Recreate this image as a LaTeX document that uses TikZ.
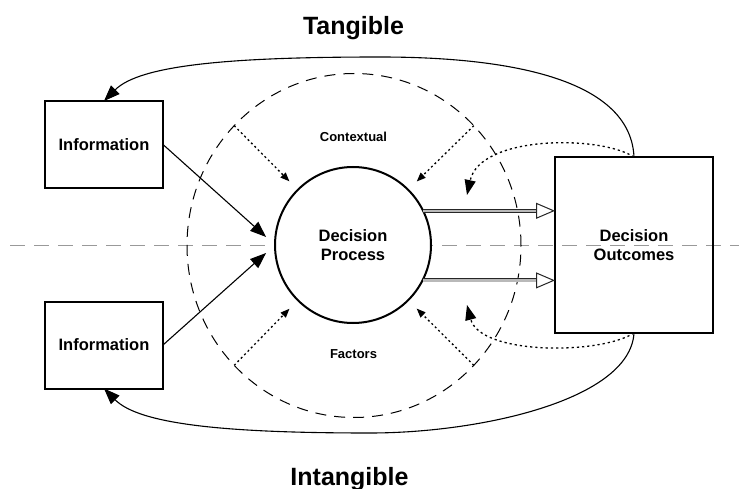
\documentclass[tikz,border=0pt]{standalone}
\usepackage{fontspec}
\setmainfont{Liberation Sans}
\usetikzlibrary{arrows.meta,shapes.geometric,calc}
\begin{document}
\begin{tikzpicture}[x=1pt,y=-1pt,
  lbl/.style={font=\bfseries\fontsize{16.5}{19}\selectfont, align=center},
  infobox/.style={lbl, draw, line width=2pt, fill=white, minimum width=118pt, minimum height=87pt, inner sep=0pt, outer sep=0pt},
  outbox/.style={lbl, draw, line width=2pt, minimum width=158pt, minimum height=176pt, inner sep=0pt, outer sep=0pt},
  procnode/.style={lbl, draw, circle, line width=2pt, fill=white, minimum size=156pt, inner sep=0pt, outer sep=0pt},
  ring/.style={draw, ellipse, line width=1pt, dash pattern=on 11pt off 8pt, minimum width=334pt, minimum height=344pt, inner sep=0pt, outer sep=0pt},
  axisline/.style={draw=gray!80, line width=0.8pt, dash pattern=on 15pt off 9pt},
  bigtitle/.style={font=\bfseries\fontsize{25}{28}\selectfont, anchor=base},
  smalltitle/.style={font=\bfseries\fontsize{13}{15}\selectfont, anchor=base},
  solidarrow/.style={line width=1.1pt, -{Triangle[length=16pt,width=12pt]}},
  loop/.style={line width=1.1pt, -{Triangle[length=16pt,width=12pt]}},
  dotarrow/.style={line width=1.3pt, dash pattern=on 2pt off 2.8pt, -{Triangle[length=9pt,width=7pt]}},
  dotloop/.style={line width=1.3pt, dash pattern=on 2.2pt off 3pt, -{Triangle[length=15pt,width=11pt]}},
  shaft/.style={draw=black!85, line width=0.9pt, double=gray!55, double distance=2.2pt, -{Triangle[open, length=19pt, width=16pt, line width=1pt]}}
]
\useasboundingbox (0,0) rectangle (739,489);

% horizontal axis line
\coordinate (axL) at (10,245);
\coordinate (axR) at (739,245);
\draw[axisline] (axL) -- (axR);

% dashed contextual ring
\node[ring] (ctx) at (354,245.5) {};

% nodes
\node[procnode] (c) at (353,245) {Decision\\Process};
\node[infobox] (i1) at (104,144.5) {Information};
\node[infobox] (i2) at (104,345) {Information};
\node[outbox] (out) at (634,245) {Decision\\Outcomes};

% titles
\node[bigtitle] (tang) at (353.5,35) {Tangible};
\node[bigtitle] (intang) at (349.5,485) {Intangible};
\node[smalltitle] (ctxlbl) at (353.5,142) {Contextual};
\node[smalltitle] (faclbl) at (353.5,358) {Factors};

% information arrows
\draw[solidarrow, shorten >=12pt] (i1.east) -- (c.west);
\draw[solidarrow, shorten >=12pt] (i2.east) -- (c.west);

% contextual dotted arrows
\draw[dotarrow, shorten >=12pt] (ctx.135) -- (c.135);
\draw[dotarrow, shorten >=12pt] (ctx.45) -- (c.45);
\draw[dotarrow, shorten >=12pt] (ctx.225) -- (c.225);
\draw[dotarrow, shorten >=12pt] (ctx.315) -- (c.315);

% process -> outcomes
\draw[shaft] (c.26.7) -- (c.26.7 -| out.west);
\draw[shaft] (c.-27.5) -- (c.-27.5 -| out.west);

% feedback dotted curves
\coordinate (fb1) at (467,195);
\coordinate (fb2) at (467,305);
\draw[dotloop] (out.north) .. controls (600,135) and (480,135) .. (fb1);
\draw[dotloop] (out.south) .. controls (600,355) and (480,355) .. (fb2);

% tangible / intangible loops
\draw[loop] (out.north) .. controls (630,70) and (480,57) .. (380,57)
   .. controls (230,57) and (140,65) .. (i1.north);
\draw[loop] (out.south) .. controls (630,400) and (480,433) .. (370,433)
   .. controls (230,433) and (140,425) .. (i2.south);
\end{tikzpicture}
\end{document}
